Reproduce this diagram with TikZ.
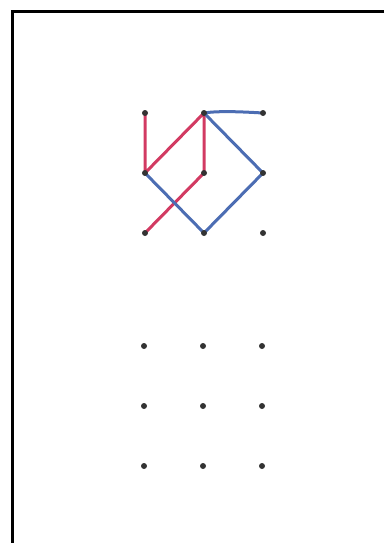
\documentclass[tikz,border=0pt]{standalone}
\definecolor{penred}{HTML}{D23A62}
\definecolor{penblue}{HTML}{4C6DB3}
\definecolor{dotgray}{HTML}{333333}
\tikzset{
  gdot/.style={circle,fill=dotgray,inner sep=0pt,minimum size=6pt},
  redline/.style={draw=penred,line width=3pt,line cap=round,line join=round},
  blueline/.style={draw=penblue,line width=3pt,line cap=round,line join=round},
  frame/.style={draw=black,line width=2.4pt}
}
\begin{document}
\begin{tikzpicture}[x=1pt,y=-1pt]
\useasboundingbox (0,0) rectangle (384,543);
\coordinate (ftr) at (384,11.5);
\coordinate (ftl) at (12.5,11.5);
\coordinate (fbl) at (12.5,543);
\draw[frame] (ftr) -- (ftl) -- (fbl);
% upper grid
\foreach \c/\x in {1/145,2/204,3/263}{
  \foreach \r/\y in {1/113,2/173,3/233}{
    \coordinate (d\r\c) at (\x,\y);
  }
}
% red strokes
\draw[redline] (d11) -- (d21) -- (d12) -- (d22) -- (d31);
% blue strokes
\draw[blueline] (d12) .. controls (220,110.5) and (245,112) .. (d13);
\draw[blueline] (d12) -- (d23) -- (d32) -- (d21);
% upper dots
\foreach \r in {1,2,3}{\foreach \c in {1,2,3}{
  \node[gdot] (u\r\c) at (d\r\c) {};
}}
% lower grid
\foreach \c/\x in {1/144,2/203,3/262}{
  \foreach \r/\y in {1/346,2/406,3/466}{
    \node[gdot] (l\r\c) at (\x,\y) {};
  }
}
\end{tikzpicture}
\end{document}
